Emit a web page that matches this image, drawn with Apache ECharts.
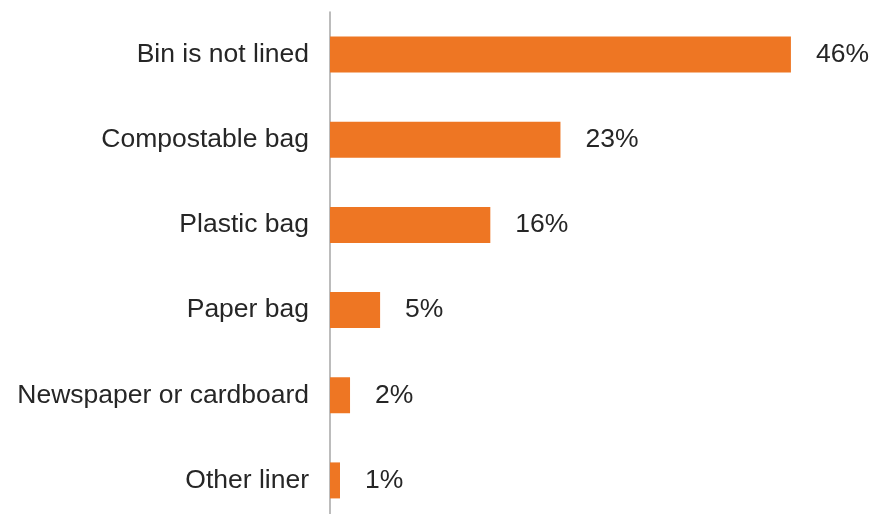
<!DOCTYPE html>
<html>
<head>
<meta charset="utf-8">
<style>
  html, body { margin: 0; padding: 0; background: #ffffff; }
  #chart { width: 875px; height: 514px; }
</style>
<script src="https://cdn.jsdelivr.net/npm/echarts@6/dist/echarts.min.js"></script>
</head>
<body>
<div id="chart"></div>
<script>
// How the food-waste bin is lined (share of respondents, %)
const categories = [
  'Bin is not lined',
  'Compostable bag',
  'Plastic bag',
  'Paper bag',
  'Newspaper or cardboard',
  'Other liner'
];
const shares = [46, 23, 16, 5, 2, 1];

const chart = echarts.init(document.getElementById('chart'), null, { renderer: 'canvas' });

const textFont = '"Liberation Sans", Arial, Helvetica, sans-serif';

chart.setOption({
  animation: false,
  backgroundColor: '#ffffff',
  // the last band runs a little past the bottom edge
  grid: {
    left: 330, top: 12, width: 501, height: 511,
    containLabel: false,
    outerBoundsMode: 'none'
  },
  xAxis: {
    type: 'value',
    min: 0,
    max: 50,
    show: false
  },
  yAxis: {
    type: 'category',
    data: categories,
    inverse: true,
    axisLine: { show: true, lineStyle: { color: '#a6a6a6', width: 1.5 } },
    axisTick: { show: false },
    axisLabel: {
      margin: 21,
      color: '#262626',
      fontSize: 26.5,
      fontFamily: textFont
    }
  },
  series: [{
    type: 'bar',
    data: shares,
    barWidth: 36,
    itemStyle: { color: '#ee7623' },
    label: {
      show: true,
      position: 'right',
      distance: 25,
      formatter: p => p.value + '%',
      color: '#262626',
      fontSize: 26.5,
      fontFamily: textFont
    }
  }]
});
</script>
</body>
</html>
